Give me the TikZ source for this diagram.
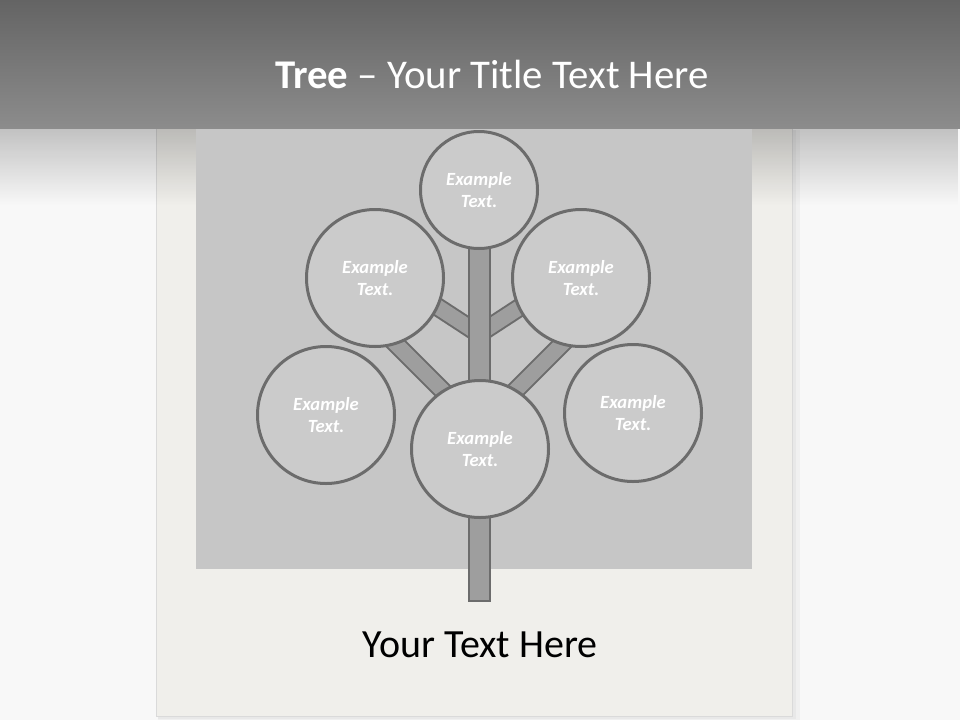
\documentclass[tikz,border=0pt]{standalone}
\usepackage{fontspec}
\setmainfont{Carlito}
\usetikzlibrary{fadings}
\definecolor{bandtop}{HTML}{646464}
\definecolor{bandbot}{HTML}{8C8C8C}
\definecolor{pagebg}{HTML}{F8F8F8}
\definecolor{cardbg}{HTML}{F0EFEB}
\definecolor{cardedge}{HTML}{DADADA}
\definecolor{panel}{HTML}{C6C6C6}
\definecolor{ring}{HTML}{6C6C6C}
\definecolor{leaf}{HTML}{CBCBCB}
\definecolor{wood}{HTML}{9E9E9E}
\begin{document}
\begin{tikzpicture}[x=1pt,y=-1pt,
 leafnode/.style={circle, draw=ring, line width=3pt, fill=leaf, minimum size=137pt, inner sep=0pt, text=white, font=\bfseries\itshape\fontsize{18.6}{22}\selectfont, align=center},
 trunkbox/.style={rectangle, draw=ring, line width=2pt, fill=wood, inner sep=0pt},
 branch/.style={draw=ring, line width=2pt, double=wood, double distance=15pt}
]
\useasboundingbox (0,0) rectangle (960,720);
\fill[pagebg] (0,0) rectangle (960,720);
% card and its shadow
\fill[black, opacity=0.03] (158,130) rectangle (800,720);
\fill[black, opacity=0.03] (158,130) rectangle (796,719);
\fill[cardbg, draw=cardedge, line width=1pt] (156,120) rectangle (792,716);
\fill[black, opacity=0.22, path fading=south] (0,128) rectangle (960,205);
\fill[panel] (196,120) rectangle (752,569);
% title band
\shade[top color=bandtop, bottom color=bandbot] (0,0) rectangle (960,128);
\node[font=\fontsize{40.8}{48}\selectfont, text=white, anchor=base, inner sep=0pt] (title) at (492,88) {\textbf{Tree} – Your Title Text Here};
% branches
\coordinate (ulA) at (430,302); \coordinate (ulB) at (479,334);
\coordinate (urA) at (528,302); \coordinate (urB) at (479,334);
\coordinate (llA) at (390,338); \coordinate (llB) at (465,413);
\coordinate (lrA) at (568,338); \coordinate (lrB) at (493,413);
\draw[branch] (ulA) -- (ulB);
\draw[branch] (urA) -- (urB);
\draw[branch] (llA) -- (llB);
\draw[branch] (lrA) -- (lrB);
% trunk
\node[trunkbox, minimum width=21pt, minimum height=356pt] (trunk) at (479.5,423) {};
% leaves
\node[leafnode, minimum size=117pt] (top) at (479,190) {Example\\Text.};
\node[leafnode] (ul) at (375,278) {Example\\Text.};
\node[leafnode] (ur) at (581,278) {Example\\Text.};
\node[leafnode] (left) at (326,415) {Example\\Text.};
\node[leafnode] (right) at (633,413) {Example\\Text.};
\node[leafnode] (bottom) at (480,449) {Example\\Text.};
% caption
\node[font=\fontsize{40}{48}\selectfont, anchor=base, inner sep=0pt] (caption) at (480,657) {Your Text Here};
\end{tikzpicture}
\end{document}
